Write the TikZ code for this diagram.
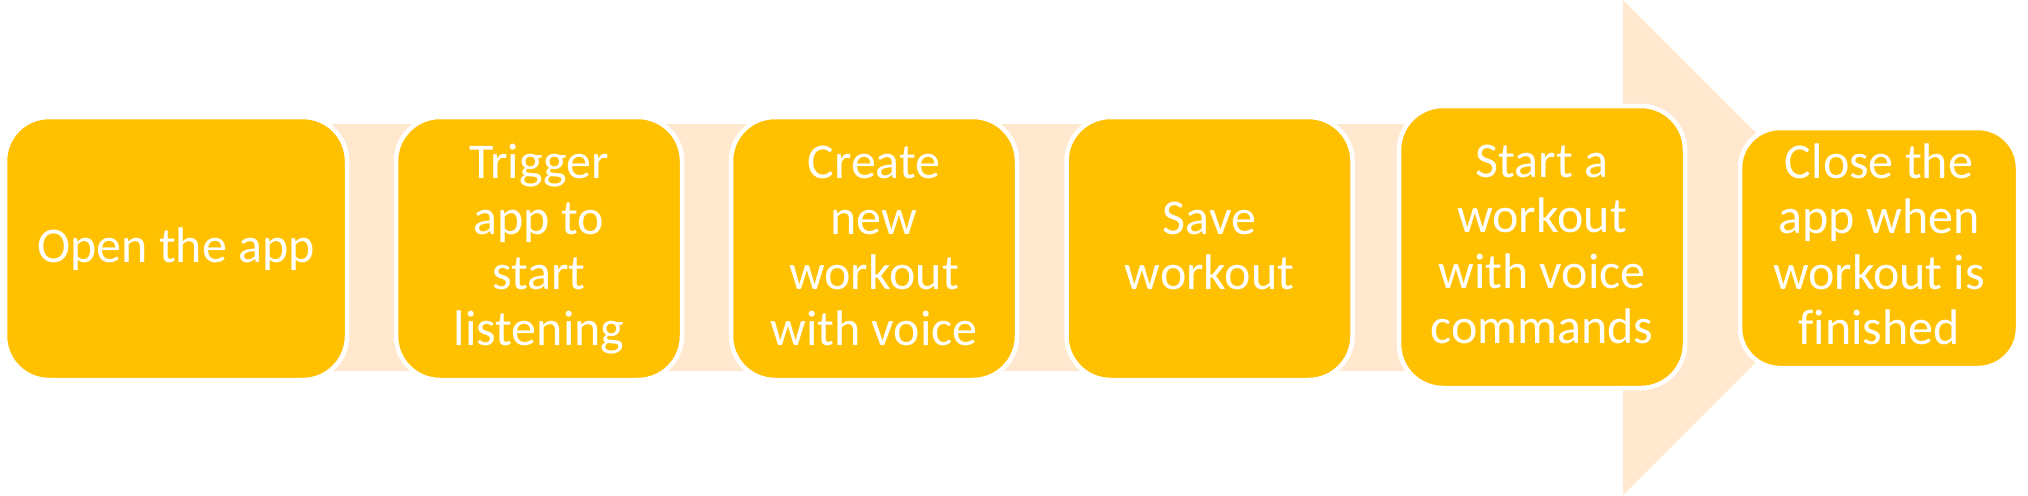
\documentclass[tikz,border=0pt]{standalone}
\usepackage{fontspec}
\setmainfont{Carlito}[Ligatures=NoCommon]
\definecolor{boxgold}{HTML}{FFC000}
\definecolor{bandpeach}{RGB}{255,232,206}
\newcommand\mystrut{\rule[-14.25pt]{0pt}{55.5pt}}
\begin{document}
\begin{tikzpicture}[x=1pt,y=-1pt,
  stepbox/.style={rectangle, rounded corners=44pt, fill=boxgold, draw=white,
    line width=4.5pt, inner sep=0pt, align=center, text=white,
    font=\fontsize{50}{55.5}\selectfont, minimum width=286pt, minimum height=263pt}]
\useasboundingbox (0,0) rectangle (2028,495);
% background arrow
\fill[bandpeach] (20,124) -- (1623,124) -- (1623,0) -- (1870.5,247.5)
  -- (1623,495) -- (1623,371) -- (20,371) -- cycle;
% steps
\node[stepbox, minimum width=342pt] (b1) at (176,248.5) {\mystrut Open the app\mystrut};
\node[stepbox] (b2) at (539,248.5) {\mystrut Trigger\\\mystrut app to\\\mystrut start\\\mystrut listening};
\node[stepbox] (b3) at (874,248.5) {\mystrut Create\\\mystrut new\\\mystrut workout\\\mystrut with voice};
\node[stepbox] (b4) at (1209.5,248.5) {\mystrut Save\\\mystrut workout};
\node[stepbox, minimum height=282pt] (b5) at (1542,247) {\mystrut Start a\\\mystrut workout\\\mystrut with voice\\\mystrut commands};
\node[stepbox, minimum width=278pt, minimum height=240pt, rounded corners=40pt] (b6) at (1879,248) {\mystrut Close the\\\mystrut app when\\\mystrut workout is\\\mystrut finished};
\end{tikzpicture}
\end{document}
